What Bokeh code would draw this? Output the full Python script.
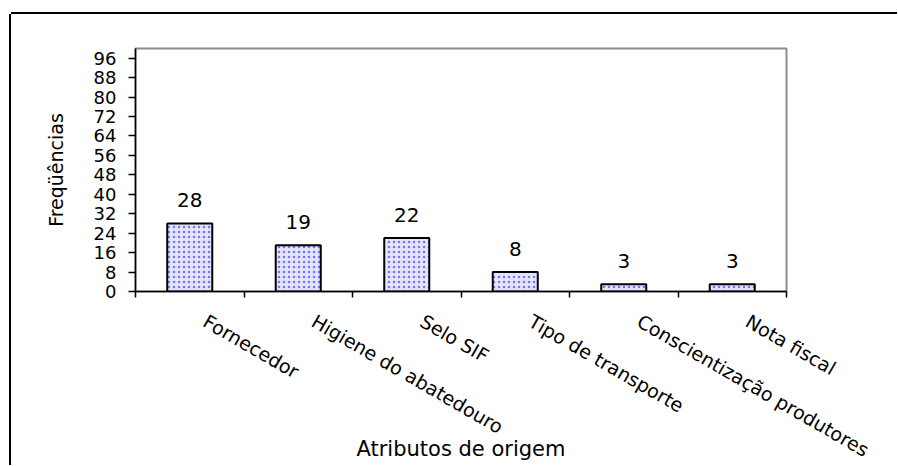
import math
from bokeh.plotting import figure
from bokeh.models import (ColumnDataSource, Range1d, LinearAxis,
                          FixedTicker, LabelSet)
from bokeh.core.properties import value
from bokeh.embed import file_html
from bokeh.resources import INLINE

categories = ["Fornecedor", "Higiene do abatedouro", "Selo SIF",
              "Tipo de transporte", "Conscientização produtores", "Nota fiscal"]
frequencies = [28, 19, 22, 8, 3, 3]
y_ticks = [0, 8, 16, 24, 32, 40, 48, 56, 64, 72, 80, 88, 96]
y_max = 100
x_title = "Atributos de origem"
y_title = "Freqüências"

FONT = "DejaVu Sans"
LABEL_SHIFT = 0.14  # horizontal nudge of rotated category labels (slot units)

n = len(categories)
slot_centers = [i + 0.5 for i in range(n)]
label_ticks = [c + LABEL_SHIFT for c in slot_centers]
source = ColumnDataSource(dict(x=slot_centers, freq=frequencies,
                               label=[str(v) for v in frequencies]))

p = figure(x_range=Range1d(0, n), y_range=Range1d(0, y_max),
           width=886, height=451, output_backend="svg", toolbar_location=None,
           x_axis_location=None, y_axis_location="left",
           min_border_left=124, min_border_top=34, min_border_right=111,
           min_border_bottom=174)
p.margin = (14, 0, 0, 11)
# outer chart-area frame: only its left and top edges are visible
p.styles = {"box-shadow": "0 -2px 0 0 #000000, -2px 0 0 0 #000000"}
p.grid.visible = False
p.outline_line_color = "#8c8c8c"
p.outline_line_width = 2
p.background_fill_color = "white"
p.border_fill_color = "white"

# boundary ticks axis (closest to frame)
tick_axis = LinearAxis(ticker=FixedTicker(ticks=list(range(n + 1))),
                       major_label_text_font_size="0px", major_label_standoff=0,
                       major_label_overrides={i: "" for i in range(n + 1)},
                       major_tick_out=6, major_tick_in=0,
                       minor_tick_line_color=None,
                       axis_line_color="black", axis_line_width=1.5,
                       major_tick_line_color="black", major_tick_line_width=1.5)
p.add_layout(tick_axis, "below")

cat_axis = LinearAxis(ticker=FixedTicker(ticks=label_ticks),
                      major_label_overrides={t: name for t, name in zip(label_ticks, categories)},
                      axis_line_color=None, major_tick_line_color=None,
                      minor_tick_line_color=None,
                      major_label_orientation=-math.pi / 6,
                      major_label_standoff=16,
                      major_label_text_font=FONT,
                      major_label_text_font_size="19px",
                      major_label_text_color="black",
                      axis_label=x_title, axis_label_standoff=-36,
                      axis_label_text_font=FONT,
                      axis_label_text_font_size="21px",
                      axis_label_text_font_style="normal",
                      axis_label_text_color="black")
p.add_layout(cat_axis, "below")

yax = p.yaxis[0]
yax.ticker = FixedTicker(ticks=y_ticks)
yax.major_label_text_font = FONT
yax.major_label_text_font_size = "18px"
yax.major_label_text_color = "black"
yax.major_label_standoff = 12
yax.major_tick_out = 7
yax.major_tick_in = 0
yax.minor_tick_line_color = None
yax.axis_line_color = "black"
yax.axis_line_width = 1.5
yax.major_tick_line_color = "black"
yax.major_tick_line_width = 1.5
yax.axis_label = y_title
yax.axis_label_text_font = FONT
yax.axis_label_text_font_size = "19px"
yax.axis_label_text_font_style = "normal"
yax.axis_label_text_color = "black"
yax.axis_label_standoff = 24

p.vbar(x="x", top="freq", width=0.415, source=source,
       fill_color="#e4e4ff", hatch_pattern="dot", hatch_color="#7474f0",
       hatch_scale=5, hatch_weight=4,
       line_color="black", line_width=2)

labels = LabelSet(x="x", y="freq", text="label", source=source,
                  text_align="center", text_baseline="bottom", y_offset=16,
                  text_font=value(FONT), text_font_size="20px", text_color="black")
p.add_layout(labels)

open("out.html", "w").write(file_html(p, INLINE))
